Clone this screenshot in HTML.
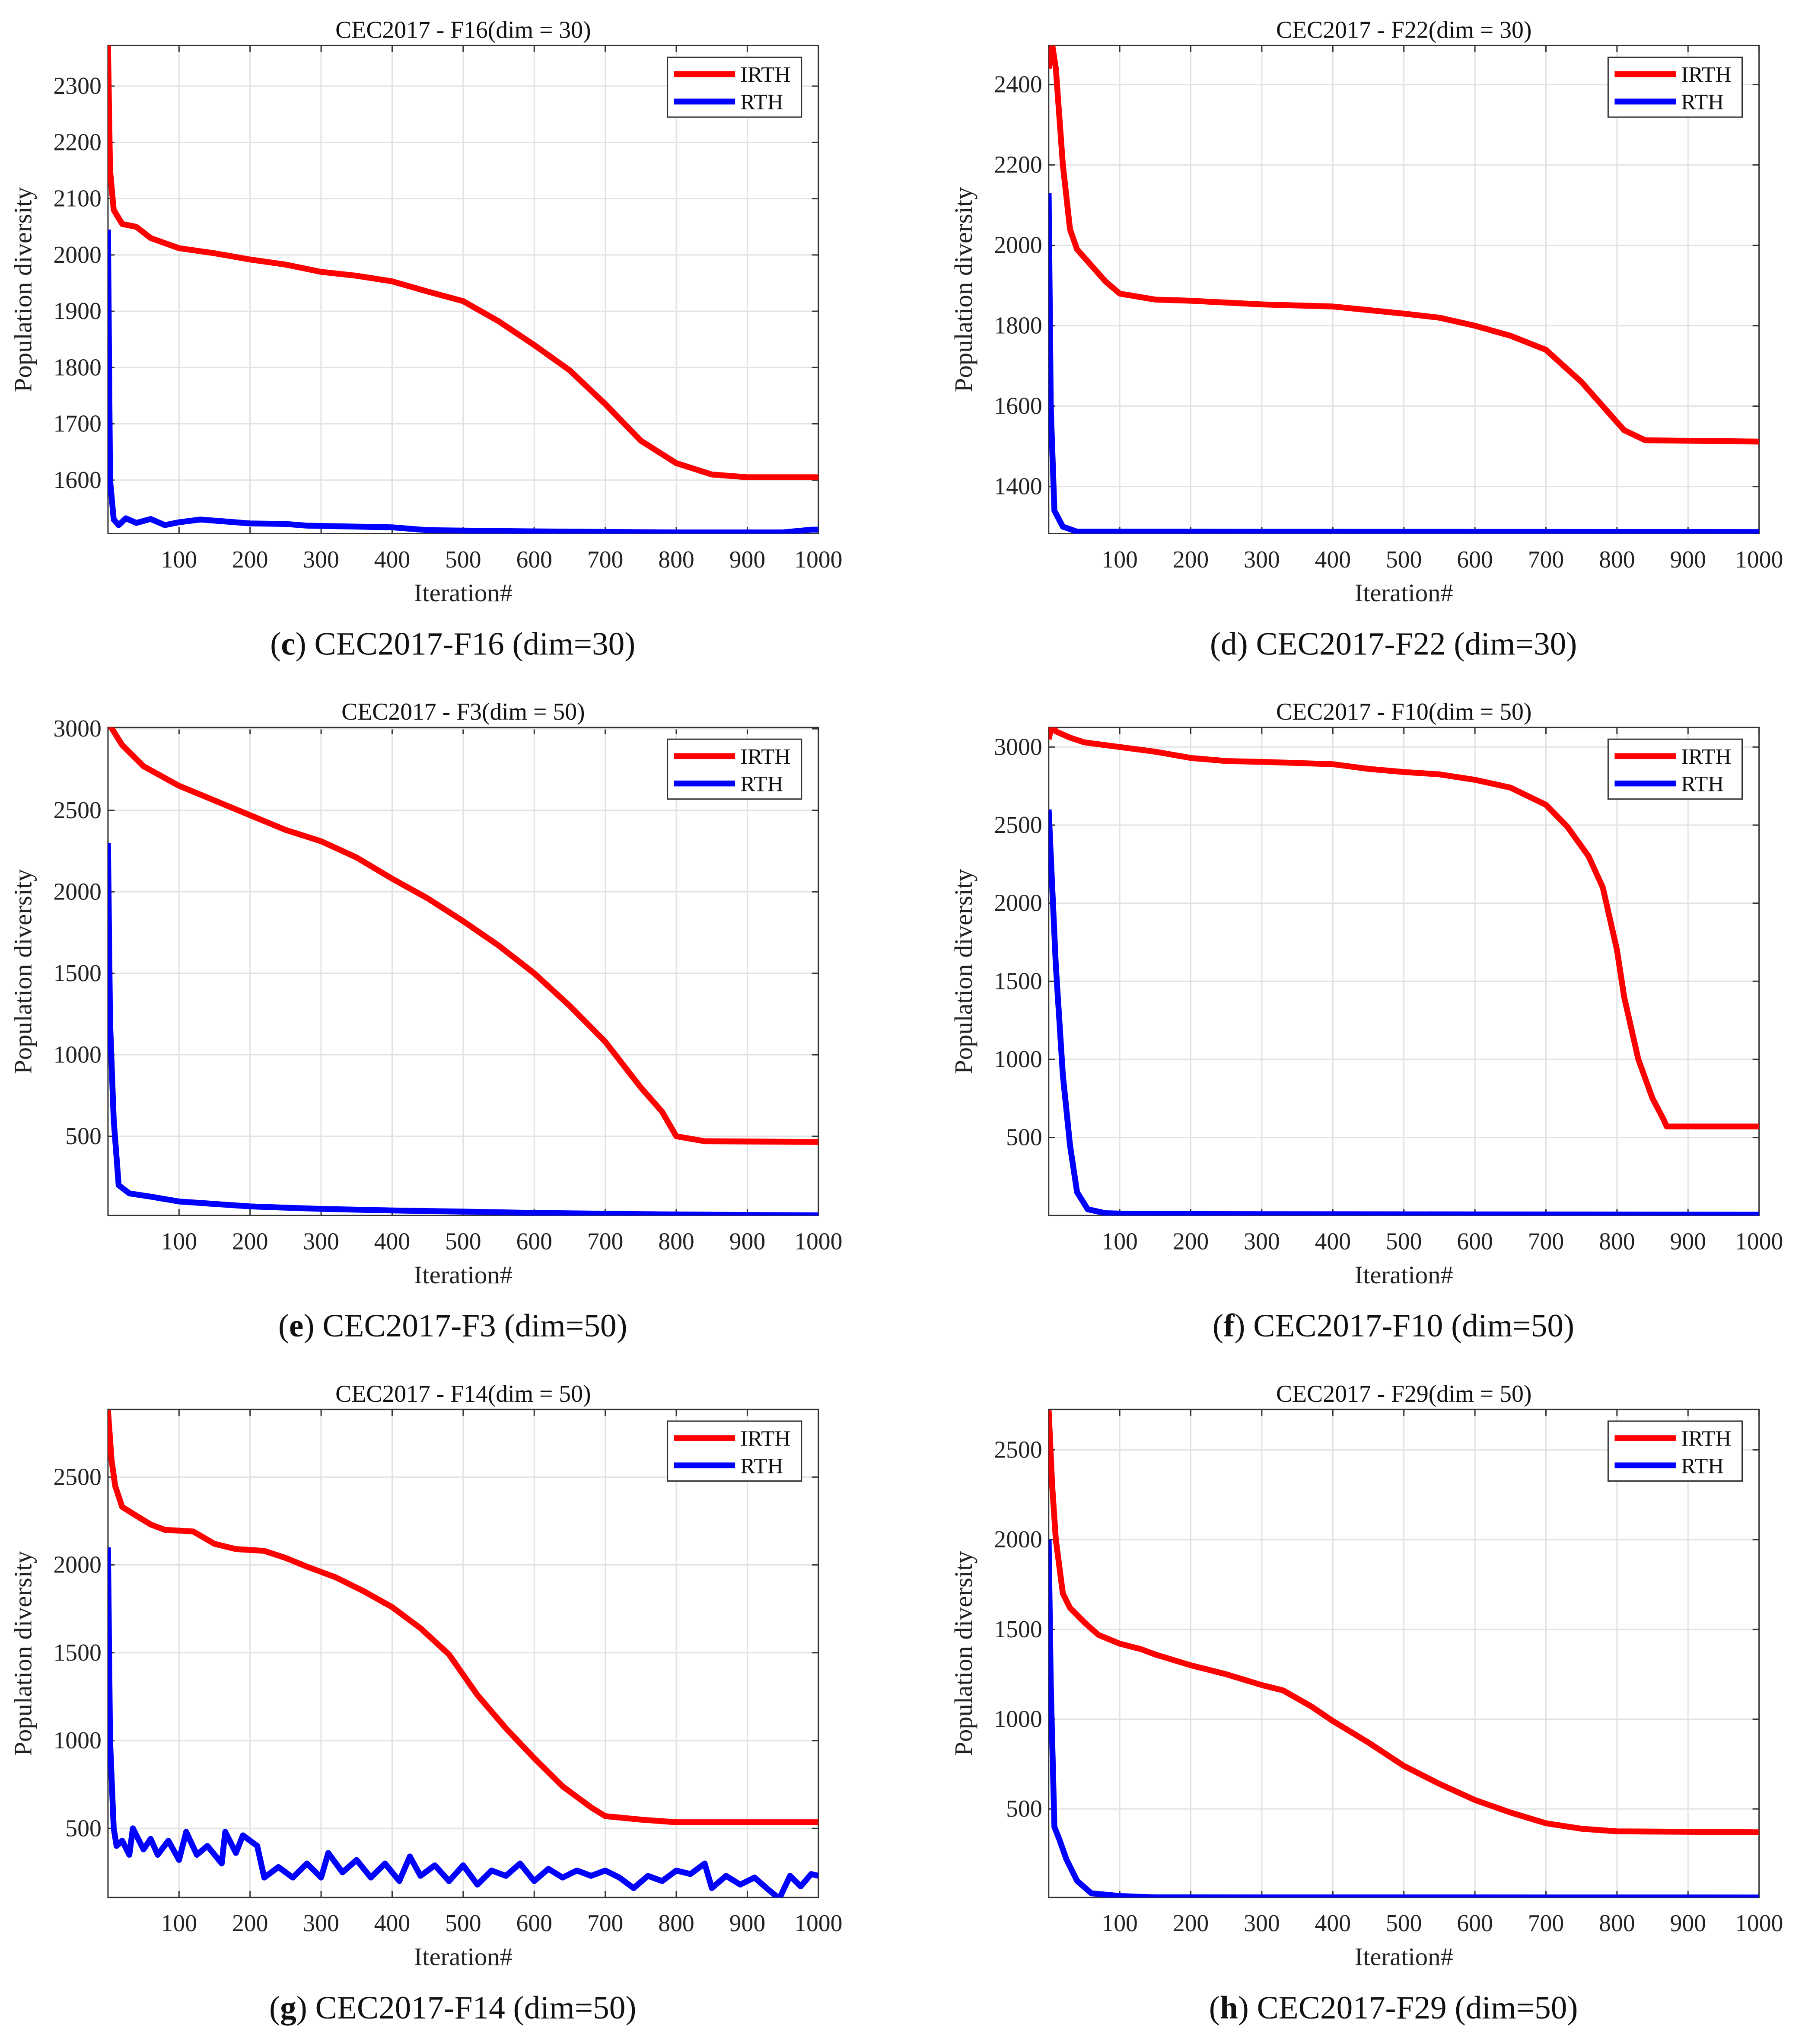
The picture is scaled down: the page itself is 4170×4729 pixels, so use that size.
<!DOCTYPE html>
<html><head><meta charset="utf-8"><style>html,body{margin:0;padding:0;background:#fff}svg{display:block}</style></head>
<body>
<svg id="fig" width="4170" height="4729" viewBox="0 0 1385 1570.6" preserveAspectRatio="none" xmlns="http://www.w3.org/2000/svg" font-family="Liberation Serif, serif"></svg>
<script>
const xTicks=[100,200,300,400,500,600,700,800,900,1000];
const f16Irth=[[0,2372],[3,2150],[8,2080],[20,2055],[40,2050],[60,2030],[100,2012],[150,2003],[200,1992],[250,1983],[300,1970],[350,1963],[400,1953],[450,1935],[500,1918],[550,1882],[600,1840],[650,1795],[700,1735],[750,1670],[800,1630],[850,1610],[900,1605],[1000,1605]];
const f16Rth=[[0,2045],[3,1600],[8,1530],[15,1520],[25,1532],[40,1524],[60,1531],[80,1520],[100,1525],[130,1530],[200,1523],[250,1522],[280,1519],[400,1516],[450,1511],[600,1509],[800,1507],[950,1507],[990,1512],[1000,1512]];
const f22Irth=[[0,2440],[5,2500],[10,2440],[20,2200],[30,2040],[40,1990],[60,1950],[80,1910],[100,1880],[150,1865],[200,1862],[300,1853],[400,1848],[500,1830],[550,1820],[600,1800],[650,1775],[700,1740],[750,1660],[780,1600],[810,1540],[840,1515],[1000,1512]];
const f22Rth=[[0,2130],[3,1600],[8,1340],[20,1300],[40,1288],[1000,1287]];
const f3Irth=[[0,3040],[20,2900],[50,2770],[100,2650],[150,2560],[200,2470],[250,2380],[300,2310],[350,2210],[400,2080],[450,1960],[500,1820],[550,1670],[600,1500],[650,1300],[700,1080],[750,800],[780,650],[800,500],[840,470],[1000,465]];
const f3Rth=[[0,2300],[3,1200],[8,600],[15,200],[30,150],[60,130],[100,100],[150,85],[200,70],[300,55],[400,45],[500,38],[600,30],[800,20],[1000,15]];
const f10Irth=[[0,3050],[5,3150],[10,3100],[30,3060],[50,3030],[100,3000],[150,2970],[200,2930],[250,2910],[300,2905],[400,2890],[450,2860],[500,2840],[550,2825],[600,2790],[650,2740],[700,2630],[730,2490],[760,2300],[780,2100],[800,1700],[810,1400],[830,1000],[850,750],[865,620],[870,570],[1000,570]];
const f10Rth=[[0,2600],[10,1600],[20,900],[30,450],[40,150],[55,40],[80,15],[120,10],[1000,5]];
const f14Irth=[[0,2880],[5,2600],[10,2450],[20,2330],[40,2280],[60,2230],[80,2200],[120,2190],[150,2120],[180,2090],[220,2080],[250,2040],[280,1990],[320,1930],[360,1850],[400,1760],[440,1640],[480,1490],[520,1260],[560,1070],[600,900],[640,740],[680,620],[700,570],[750,550],[800,535],[1000,535]];
const f14Rth=[[0,2100],[3,1000],[8,500],[12,400],[20,430],[30,350],[35,500],[50,380],[60,440],[70,350],[85,430],[100,320],[110,480],[125,350],[140,400],[160,300],[165,480],[180,360],[190,460],[210,400],[220,220],[240,280],[260,220],[280,300],[300,220],[310,360],[330,250],[350,320],[370,220],[390,300],[410,200],[425,340],[440,230],[460,290],[480,200],[500,290],[520,180],[540,260],[560,230],[580,300],[600,200],[620,270],[640,220],[660,260],[680,230],[700,260],[720,220],[740,160],[760,230],[780,200],[800,260],[820,240],[840,300],[850,160],[870,230],[890,180],[910,220],[930,150],[945,100],[960,230],[975,170],[990,240],[1000,230]];
const f29Irth=[[0,2720],[5,2300],[10,2000],[20,1700],[30,1620],[50,1540],[70,1470],[100,1420],[130,1390],[150,1360],[200,1300],[250,1250],[300,1190],[330,1160],[370,1070],[400,990],[450,870],[500,740],[550,640],[600,550],[650,480],[700,420],[750,390],[800,375],[1000,370]];
const f29Rth=[[0,2000],[3,1200],[8,400],[15,330],[25,220],[40,100],[60,30],[100,15],[150,8],[1000,7]];
const yTicks16=[1600,1700,1800,1900,2000,2100,2200,2300];
const yTicks22=[1400,1600,1800,2000,2200,2400];
const yTicks3=[500,1000,1500,2000,2500,3000];
const yTicks10=[500,1000,1500,2000,2500,3000];

const NS="http://www.w3.org/2000/svg";
const svg=document.getElementById('fig');
function mk(tag,attrs,parent){const e=document.createElementNS(NS,tag);for(const k in attrs)e.setAttribute(k,attrs[k]);(parent||svg).appendChild(e);return e;}
const panels=[
 {id:'f16',title:'CEC2017 - F16(dim = 30)',cap:['c',' CEC2017-F16 (dim=30)'],bold:true,x0:83,y0:35,ymin:1505,ymax:2372,yt:yTicks16,a:f16Irth,b:f16Rth},
 {id:'f22',title:'CEC2017 - F22(dim = 30)',cap:['d',' CEC2017-F22 (dim=30)'],bold:false,x0:806,y0:35,ymin:1283,ymax:2497,yt:yTicks22,a:f22Irth,b:f22Rth},
 {id:'f3',title:'CEC2017 - F3(dim = 50)',cap:['e',' CEC2017-F3 (dim=50)'],bold:true,x0:83,y0:559,ymin:14,ymax:3008,yt:yTicks3,a:f3Irth,b:f3Rth},
 {id:'f10',title:'CEC2017 - F10(dim = 50)',cap:['f',' CEC2017-F10 (dim=50)'],bold:true,x0:806,y0:559,ymin:0,ymax:3125,yt:yTicks10,a:f10Irth,b:f10Rth},
 {id:'f14',title:'CEC2017 - F14(dim = 50)',cap:['g',' CEC2017-F14 (dim=50)'],bold:true,x0:83,y0:1083,ymin:107,ymax:2885,yt:yTicks3.slice(0,5),a:f14Irth,b:f14Rth},
 {id:'f29',title:'CEC2017 - F29(dim = 50)',cap:['h',' CEC2017-F29 (dim=50)'],bold:true,x0:806,y0:1083,ymin:7,ymax:2725,yt:yTicks3.slice(0,5),a:f29Irth,b:f29Rth}
];
const W=546,H=375;
panels.forEach(p=>{
 const g=mk('g',{});
 
 
 const sx=v=>p.x0+v/1000*W;
 const sy=v=>p.y0+H-(v-p.ymin)/(p.ymax-p.ymin)*H;
 const clipId='c'+p.id;
 const cp=mk('clipPath',{id:clipId},g);mk('rect',{x:p.x0,y:p.y0,width:W,height:H},cp);
 xTicks.forEach(t=>{
  const gl=mk('line',{x1:sx(t),x2:sx(t),y1:p.y0,y2:p.y0+H,stroke:'#e2e2e2','stroke-width':1},g);
  
  mk('line',{x1:sx(t),x2:sx(t),y1:p.y0+H,y2:p.y0+H-5,stroke:'#333','stroke-width':1},g);
  mk('line',{x1:sx(t),x2:sx(t),y1:p.y0,y2:p.y0+5,stroke:'#333','stroke-width':1},g);
  const tx=mk('text',{x:sx(t),y:p.y0+H+26,'text-anchor':'middle','font-size':18.5,fill:'#222'},g);tx.textContent=t;
  
 });
 p.yt.forEach(t=>{
  const gl=mk('line',{x1:p.x0,x2:p.x0+W,y1:sy(t),y2:sy(t),stroke:'#e2e2e2','stroke-width':1},g);
  
  mk('line',{x1:p.x0,x2:p.x0+5,y1:sy(t),y2:sy(t),stroke:'#333','stroke-width':1},g);
  mk('line',{x1:p.x0+W,x2:p.x0+W-5,y1:sy(t),y2:sy(t),stroke:'#333','stroke-width':1},g);
  const tx=mk('text',{x:p.x0-5,y:sy(t)+6,'text-anchor':'end','font-size':18.5,fill:'#222'},g);tx.textContent=t;
  
 });
 const box=mk('rect',{x:p.x0,y:p.y0,width:W,height:H,fill:'none',stroke:'#333','stroke-width':1},g);
 
 [[p.b,'#0000ff','rth-line'],[p.a,'#ff0000','irth-line']].forEach(([d,c,n])=>{
  const pl=mk('polyline',{points:d.map(q=>sx(q[0]).toFixed(1)+','+sy(q[1]).toFixed(1)).join(' '),fill:'none',stroke:c,'stroke-width':4.5,'stroke-linejoin':'round','clip-path':'url(#'+clipId+')'},g);
  
 });
 const tt=mk('text',{x:p.x0+W/2,y:p.y0-6,'text-anchor':'middle','font-size':18.5,fill:'#111'},g);tt.textContent=p.title;
 
 const xl=mk('text',{x:p.x0+W/2,y:p.y0+H+52,'text-anchor':'middle','font-size':19.5,fill:'#222'},g);xl.textContent='Iteration#';
 
 const yl=mk('text',{x:0,y:0,'text-anchor':'middle','font-size':19.5,fill:'#222',transform:'translate('+(p.x0-59)+','+(p.y0+H/2)+') rotate(-90)'},g);yl.textContent='Population diversity';
 
 const lg=mk('g',{},g);
 
 const lx=p.x0+W-116,ly=p.y0+9;
 mk('rect',{x:lx,y:ly,width:103,height:46,fill:'#fff',stroke:'#333','stroke-width':1},lg);
 [['IRTH','#ff0000',13],['RTH','#0000ff',34]].forEach(([lab,c,dy])=>{
  const e=mk('g',{},lg);
  
  mk('line',{x1:lx+5,x2:lx+52,y1:ly+dy,y2:ly+dy,stroke:c,'stroke-width':4.5},e);
  const t=mk('text',{x:lx+56,y:ly+dy+6,'font-size':17,fill:'#111'},e);t.textContent=lab;
 });
 const cap=mk('text',{x:p.x0+W/2-8,y:p.y0+H+93,'text-anchor':'middle','font-size':25,fill:'#111'},g);
 
 const ts=mk('tspan',{},cap);ts.textContent='(';
 const tb=mk('tspan',{'font-weight':p.bold?'bold':'normal'},cap);tb.textContent=p.cap[0];
 const tr=mk('tspan',{},cap);tr.textContent=')'+p.cap[1];
});
</script>
</body></html>
